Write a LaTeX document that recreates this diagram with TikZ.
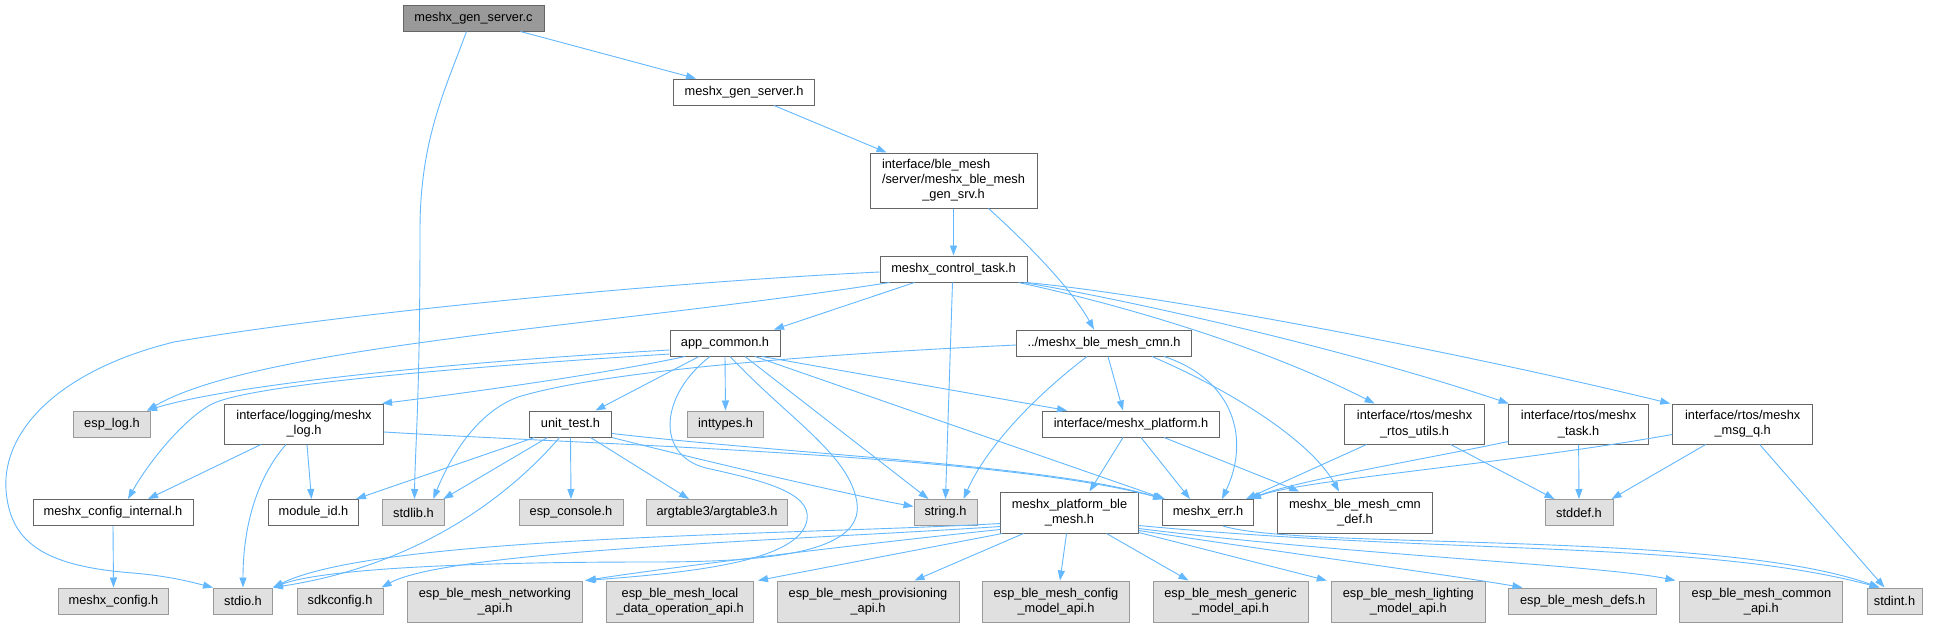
\documentclass[tikz,border=0pt]{standalone}
\usepackage{fontspec}
\setmainfont{Liberation Sans}
\usetikzlibrary{arrows.meta}
\definecolor{edgec}{HTML}{63B8FF}
\definecolor{bordi}{HTML}{666666}
\definecolor{borde}{HTML}{999999}
\definecolor{fille}{HTML}{E0E0E0}
\definecolor{fillr}{HTML}{999999}
\begin{document}
\begin{tikzpicture}[x=1pt,y=-1pt,
  every node/.style={font=\fontsize{12.8}{15.3}\selectfont, inner sep=0pt, line width=1pt},
  root/.style={draw=bordi, fill=fillr},
  inn/.style={draw=bordi, fill=white},
  ext/.style={draw=borde, fill=fille},
  e/.style={draw=edgec, line width=0.9pt, -{Triangle[length=10pt,width=7pt]}}]
\fill[white] (0,0) rectangle (1936,627);
\useasboundingbox (0,0) rectangle (1936,627);
% nodes
\node[root,minimum width=141pt,minimum height=26pt] (gsc) at (473.5,18) {meshx\_gen\_server.c};
\node[inn,minimum width=141pt,minimum height=26pt] (gsh) at (744,92) {meshx\_gen\_server.h};
\node[inn,minimum width=167pt,minimum height=55pt] (gensrv) at (953.5,180.5) {\begin{tabular}{@{}l@{}}interface/ble\_mesh\\/server/meshx\_ble\_mesh\\\multicolumn{1}{@{}c@{}}{\_gen\_srv.h}\end{tabular}};
\node[inn,minimum width=147pt,minimum height=26pt] (ctl) at (953.5,269) {meshx\_control\_task.h};
\node[inn,minimum width=110pt,minimum height=26pt] (app) at (725,343) {app\_common.h};
\node[inn,minimum width=174.5pt,minimum height=26pt] (cmn) at (1104,343) {../meshx\_ble\_mesh\_cmn.h};
\node[ext,minimum width=77pt,minimum height=26pt] (esplog) at (112,424) {esp\_log.h};
\node[inn,minimum width=159pt,minimum height=40pt,align=center] (mlog) at (304,424) {interface/logging/meshx\\\_log.h};
\node[inn,minimum width=82pt,minimum height=26pt] (unit) at (570.5,424) {unit\_test.h};
\node[ext,minimum width=76pt,minimum height=26pt] (inttypes) at (725.5,424) {inttypes.h};
\node[inn,minimum width=177pt,minimum height=26pt] (plat) at (1131,424) {interface/meshx\_platform.h};
\node[inn,minimum width=140pt,minimum height=40pt,align=center] (rtosu) at (1414.6,424) {interface/rtos/meshx\\\_rtos\_utils.h};
\node[inn,minimum width=139.5pt,minimum height=40pt,align=center] (task) at (1578.6,424) {interface/rtos/meshx\\\_task.h};
\node[inn,minimum width=140pt,minimum height=40pt,align=center] (msgq) at (1742.7,424) {interface/rtos/meshx\\\_msg\_q.h};
\node[inn,minimum width=160pt,minimum height=26pt] (cfgint) at (113,512.5) {meshx\_config\_internal.h};
\node[inn,minimum width=90pt,minimum height=26pt] (modid) at (313.5,512.5) {module\_id.h};
\node[ext,minimum width=62.5pt,minimum height=26pt] (stdlib) at (413.5,512.5) {stdlib.h};
\node[ext,minimum width=104pt,minimum height=26pt] (console) at (571,512.5) {esp\_console.h};
\node[ext,minimum width=141pt,minimum height=26pt] (argt) at (717,512.5) {argtable3/argtable3.h};
\node[ext,minimum width=63pt,minimum height=26pt] (string) at (945.5,512.5) {string.h};
\node[inn,minimum width=137.5pt,minimum height=41pt,align=center] (pble) at (1069.5,512.5) {meshx\_platform\_ble\\\_mesh.h};
\node[inn,minimum width=91pt,minimum height=26pt] (err) at (1208,512.5) {meshx\_err.h};
\node[inn,minimum width=154.5pt,minimum height=41pt,align=center] (cmndef) at (1355,512.5) {meshx\_ble\_mesh\_cmn\\\_def.h};
\node[ext,minimum width=68pt,minimum height=26pt] (stddef) at (1579,512.5) {stddef.h};
\node[ext,minimum width=110pt,minimum height=26pt] (mcfg) at (113.5,601) {meshx\_config.h};
\node[ext,minimum width=59pt,minimum height=26pt] (stdio) at (243,601) {stdio.h};
\node[ext,minimum width=86pt,minimum height=26pt] (sdk) at (340,601) {sdkconfig.h};
\node[ext,minimum width=175pt,minimum height=41pt,align=center] (net) at (495,601.5) {esp\_ble\_mesh\_networking\\\_api.h};
\node[ext,minimum width=147pt,minimum height=41pt,align=center] (local) at (680,601.5) {esp\_ble\_mesh\_local\\\_data\_operation\_api.h};
\node[ext,minimum width=182pt,minimum height=41pt,align=center] (prov) at (868,601.5) {esp\_ble\_mesh\_provisioning\\\_api.h};
\node[ext,minimum width=147pt,minimum height=41pt,align=center] (cfgm) at (1056,601.5) {esp\_ble\_mesh\_config\\\_model\_api.h};
\node[ext,minimum width=155pt,minimum height=41pt,align=center] (gen) at (1230.5,601.5) {esp\_ble\_mesh\_generic\\\_model\_api.h};
\node[ext,minimum width=154pt,minimum height=41pt,align=center] (light) at (1408.3,601.5) {esp\_ble\_mesh\_lighting\\\_model\_api.h};
\node[ext,minimum width=147.5pt,minimum height=26pt] (defs) at (1582.7,601) {esp\_ble\_mesh\_defs.h};
\node[ext,minimum width=163pt,minimum height=41pt,align=center] (common) at (1761.4,601.5) {esp\_ble\_mesh\_common\\\_api.h};
\node[ext,minimum width=55pt,minimum height=26pt] (stdint) at (1894.5,601) {stdint.h};
% edges: top
\draw[e] ([xshift=47pt]gsc.south) -- ([xshift=-48pt]gsh.north);
\draw[e] ([xshift=-7pt]gsc.south) .. controls (445,90) and (420,140) .. (420,230) .. controls (420,400) and (415,450) .. ([xshift=1pt]stdlib.north);
\draw[e] ([xshift=30pt]gsh.south) -- ([xshift=-67pt]gensrv.north);
\draw[e] (gensrv.south) -- (ctl.north);
\draw[e] ([xshift=35pt]gensrv.south) .. controls (1040,255) and (1075,295) .. ([xshift=-10pt]cmn.north);
% control task
\draw[e] ([yshift=-3pt]ctl.west) .. controls (650,283) and (330,315) .. (174,342) .. controls (60,370) and (2,430) .. (6,490) .. controls (10,540) and (40,566) .. (133,573) .. controls (170,576) and (195,583) .. (stdio.north west);
\draw[e] ([xshift=-64pt]ctl.south) .. controls (620,325) and (260,345) .. ([xshift=-4pt]esplog.north east);
\draw[e] ([xshift=-39pt]ctl.south) -- ([xshift=49pt]app.north);
\draw[e] ([xshift=-1pt]ctl.south) -- (string.north);
\draw[e] ([xshift=65pt]ctl.south) .. controls (1100,300) and (1250,340) .. ([xshift=-40pt]rtosu.north);
\draw[e] ([xshift=70pt]ctl.south) .. controls (1130,300) and (1350,350) .. ([xshift=-70pt]task.north);
\draw[e] ([xshift=73pt]ctl.south) .. controls (1160,295) and (1450,350) .. ([xshift=-2pt]msgq.north west);
% app_common
\draw[e] ([yshift=-7pt]app.west) .. controls (450,362) and (230,385) .. ([xshift=-4pt]esplog.north east);
\draw[e] ([yshift=-11pt]app.west) .. controls (450,368) and (250,385) .. (212,404) .. controls (185,418) and (150,460) .. ([xshift=15pt]cfgint.north);
\draw[e] ([xshift=-40pt]app.south) .. controls (600,375) and (450,395) .. ([xshift=-2pt]mlog.north east);
\draw[e] ([xshift=-26pt]app.south) -- ([xshift=25pt]unit.north);
\draw[e] (app.south) -- (inttypes.north);
\draw[e] ([xshift=20pt]app.south) -- ([xshift=15pt]string.north west);
\draw[e] ([xshift=30pt]app.south) -- ([xshift=3pt]err.north west);
\draw[e] ([xshift=37pt]app.south) -- ([xshift=25pt]plat.north west);
\draw[e] ([xshift=-15pt]app.south) .. controls (660,395) and (655,455) .. (706,468) .. controls (760,480) and (812,492) .. (807,520) .. controls (800,560) and (700,572) .. ([xshift=2pt]net.north east);
\draw[e] ([xshift=5pt]app.south) .. controls (790,420) and (850,455) .. (857,503) .. controls (864,555) and (760,562) .. (650,562) .. controls (450,562) and (320,570) .. (stdio.north east);
% cmn
\draw[e] ([yshift=-2pt]cmn.west) .. controls (800,355) and (600,372) .. (518,397) .. controls (470,415) and (445,470) .. ([xshift=-12pt]stdlib.north east);
\draw[e] ([xshift=-17pt]cmn.south) .. controls (1030,400) and (985,450) .. ([xshift=-14pt]string.north east);
\draw[e] ([xshift=4pt]cmn.south) -- ([xshift=-8pt]plat.north);
\draw[e] ([xshift=60pt]cmn.south) .. controls (1235,380) and (1250,440) .. ([xshift=14pt]err.north);
\draw[e] ([xshift=48pt]cmn.south) .. controls (1230,390) and (1310,440) .. ([xshift=-16pt]cmndef.north);
% meshx_log
\draw[e] ([xshift=-43pt]mlog.south) -- ([xshift=35pt]cfgint.north);
\draw[e] ([xshift=3pt]mlog.south) -- ([xshift=-2pt]modid.north);
\draw[e] ([xshift=-18pt]mlog.south) .. controls (255,480) and (243,530) .. (stdio.north);
\draw[e] ([yshift=-8pt]mlog.east) .. controls (600,445) and (1000,455) .. ([xshift=2pt]err.north west);
% config internal
\draw[e] (cfgint.south) -- (mcfg.north);
% unit_test
\draw[e] ([xshift=-36pt]unit.south) -- ([xshift=-3pt]modid.north east);
\draw[e] ([xshift=-23pt]unit.south) -- ([xshift=-2pt]stdlib.north east);
\draw[e] ([xshift=-11pt]unit.south) .. controls (510,495) and (420,565) .. (stdio.north east);
\draw[e] (unit.south) -- (console.north);
\draw[e] ([xshift=20pt]unit.south) -- ([xshift=-28pt]argt.north);
\draw[e] (unit.south east) .. controls (700,460) and (850,495) .. ([yshift=6pt]string.west);
\draw[e] ([yshift=4pt]unit.south east) .. controls (800,455) and (1050,465) .. ([xshift=1pt]err.north west);
% platform
\draw[e] ([xshift=-8pt]plat.south) -- ([xshift=20pt]pble.north);
\draw[e] ([xshift=10pt]plat.south) -- ([xshift=-18pt]err.north);
\draw[e] ([xshift=33pt]plat.south) -- ([xshift=22pt]cmndef.north west);
% rtos
\draw[e] ([xshift=-48pt]rtosu.south) -- ([xshift=-8pt]err.north east);
\draw[e] ([xshift=36pt]rtosu.south) -- ([xshift=10pt]stddef.north west);
\draw[e] ([yshift=3pt]task.south west) .. controls (1420,460) and (1300,480) .. ([xshift=-5pt]err.north east);
\draw[e] (task.south) -- (stddef.north);
\draw[e] ([yshift=10pt]msgq.south west) .. controls (1500,465) and (1300,480) .. ([xshift=-3pt]err.north east);
\draw[e] ([xshift=-37pt]msgq.south) -- ([xshift=-2pt]stddef.north east);
\draw[e] ([xshift=17pt]msgq.south) -- ([xshift=-10pt]stdint.north);
% err
\draw[e] ([xshift=15pt]err.south) .. controls (1300,550) and (1720,530) .. ([xshift=-15pt]stdint.north);
% platform ble mesh
\draw[e] ([yshift=8pt]pble.south east) .. controls (1450,555) and (1700,540) .. ([xshift=-15pt]stdint.north);
\draw[e] ([yshift=10pt]pble.south west) .. controls (800,535) and (380,535) .. (stdio.north east);
\draw[e] ([yshift=7pt]pble.south west) .. controls (800,540) and (450,550) .. ([xshift=-2pt]sdk.north east);
\draw[e] ([yshift=4pt]pble.south west) .. controls (850,545) and (650,570) .. ([xshift=3pt]net.north east);
\draw[e] ([xshift=2pt]pble.south west) -- ([xshift=4pt]local.north east);
\draw[e] ([xshift=-46pt]pble.south) -- ([xshift=-45pt]prov.north east);
\draw[e] ([xshift=-3pt]pble.south) -- ([xshift=4pt]cfgm.north);
\draw[e] ([xshift=37pt]pble.south) -- ([xshift=-42pt]gen.north);
\draw[e] ([yshift=1pt]pble.south east) -- ([xshift=-4pt]light.north west);
\draw[e] ([yshift=3pt]pble.south east) .. controls (1300,555) and (1450,575) .. ([xshift=14pt]defs.north west);
\draw[e] ([yshift=5pt]pble.south east) .. controls (1350,555) and (1600,565) .. ([xshift=-4pt]common.north west);
\end{tikzpicture}
\end{document}
